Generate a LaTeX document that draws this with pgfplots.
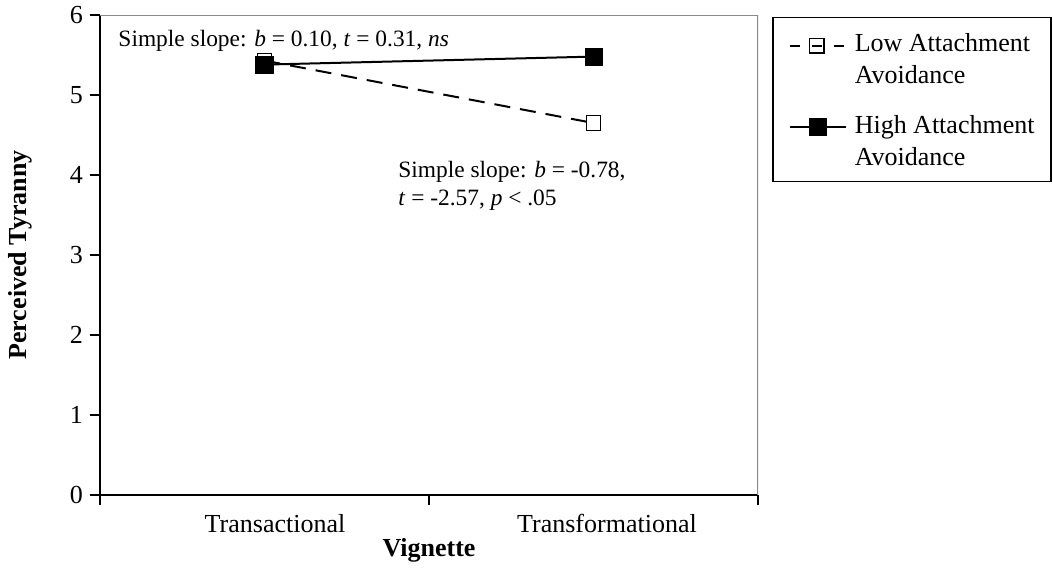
\documentclass[border=0pt]{standalone}
\usepackage{fontspec}
\setmainfont{Liberation Serif}
\usepackage{pgfplots}
\pgfplotsset{compat=1.18}
\definecolor{framegray}{RGB}{138,138,138}
\begin{document}
\begin{tikzpicture}
\useasboundingbox (-50pt,-36.5pt) rectangle (476.5pt,247.5pt);
\begin{axis}[
  at={(0,0)}, anchor=south west,
  scale only axis, width=329pt, height=240pt,
  xmin=0, xmax=2, ymin=0, ymax=6,
  axis lines*=left,
  axis line style={-, black, line width=0.8pt},
  xtick={0,1,2}, xticklabels={},
  extra x ticks={0.532,1.541},
  extra x tick labels={Transactional,Transformational},
  extra x tick style={major tick length=0pt, tick label style={yshift=-6pt}},
  ytick={0,1,2,3,4,5,6},
  tick align=outside, major tick length=5pt,
  tick style={black, line width=0.8pt},
  ticklabel style={font=\fontsize{13}{15}\selectfont},
  /pgf/number format/assume math mode=true,
  xlabel={\textbf{Vignette}},
  ylabel={\textbf{Perceived Tyranny}},
  label style={font=\fontsize{13}{15}\selectfont},
  xlabel style={at={(axis description cs:0.5,-0.075)}, anchor=north},
  ylabel style={at={(axis description cs:-0.1216,0.5)}, anchor=center},
  legend style={
    at={(rel axis cs:1.0213,0.996)}, anchor=north west,
    draw=black, line width=0.75pt,
    font=\fontsize{13}{16}\selectfont,
    inner xsep=5pt, inner ysep=6pt,
    nodes={inner sep=2pt, text depth=, text height=},
    cells={anchor=base west},
    row sep=11.5pt,
  },
  legend image code/.code={%
    \path (0pt,0.3em);
    \draw[mark repeat=2,mark phase=2,#1] plot coordinates {(3pt,0.3em) (17pt,0.3em) (31pt,0.3em)};},
]
\draw[framegray, line width=1pt] (rel axis cs:0,1) -- (rel axis cs:1,1) -- (rel axis cs:1,0);
\addplot[black, line width=1pt, dash pattern=on 8pt off 5pt,
  mark=square, mark size=3.6pt, mark options={solid, fill=white, line width=0.6pt},
  legend image code/.code={%
    \path (0pt,0.3em) (33pt,0.3em);
    \draw[##1, dash pattern=on 5pt off 6pt] (3pt,0.3em) -- (30pt,0.3em);
    \draw[##1, only marks] plot coordinates {(16.5pt,0.3em)};}]
  coordinates {(0.5,5.43) (1.5,4.65)};
\addlegendentry{\parbox[t]{91pt}{Low Attachment\\Avoidance}}
\addplot[black, solid, line width=1pt,
  mark=square*, mark size=4pt, mark options={solid}]
  coordinates {(0.5,5.38) (1.5,5.48)};
\addlegendentry{\parbox[t]{91pt}{High Attachment\\Avoidance}}
\node[anchor=base west, inner sep=0pt, font=\fontsize{11.7}{14}\selectfont]
  at (axis cs:0.055,5.61) {Simple slope: \textit{b} = 0.10, \textit{t} = 0.31, \textit{ns}};
\node[anchor=base west, inner sep=0pt, font=\fontsize{11.7}{14}\selectfont]
  at (axis cs:0.906,3.975) {Simple slope: \textit{b} = -0.78,};
\node[anchor=base west, inner sep=0pt, font=\fontsize{11.7}{14}\selectfont]
  at (axis cs:0.906,3.625) {\textit{t} = -2.57, \textit{p} {\textless} .05};
\end{axis}
\end{tikzpicture}
\end{document}
